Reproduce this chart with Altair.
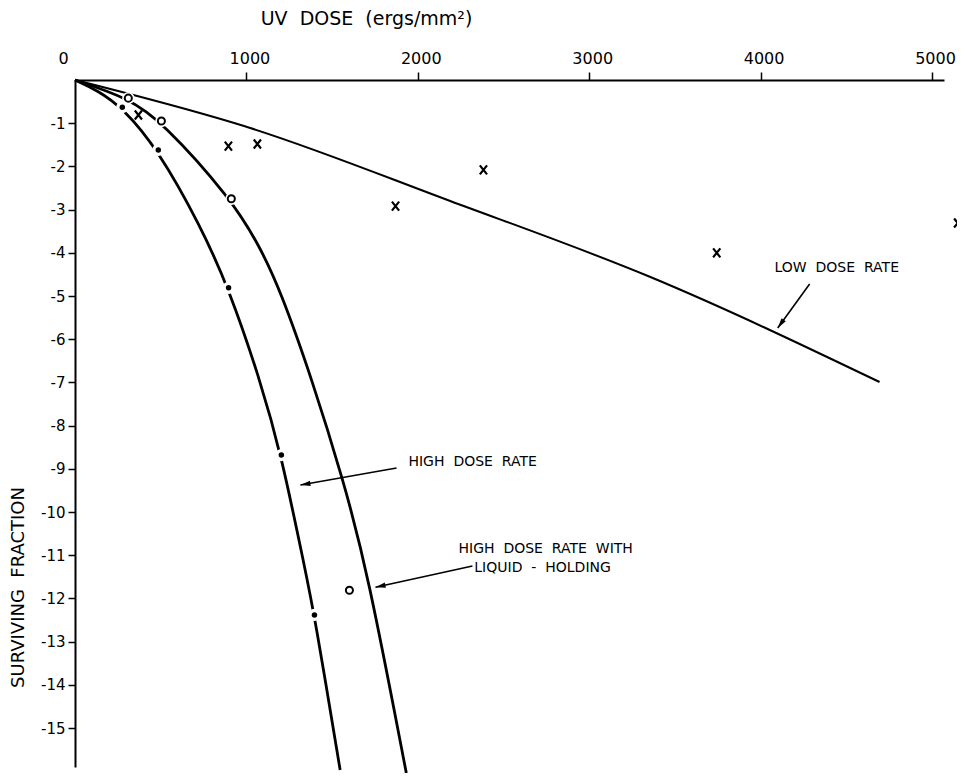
import math
import altair as alt
import pandas as pd

# ---------------- data ----------------
low_curve_dose = [0, 1022, 2189, 3357, 4694]
low_curve_log = [0, -1.11, -2.80, -4.56, -6.99]

high_curve_dose = [0, 127, 276, 486, 730, 896, 1080, 1204, 1343, 1397, 1547]
high_curve_log = [0, -0.23, -0.63, -1.62, -3.36, -4.81, -6.94, -8.68, -11.34, -12.38, -15.97]

liquid_curve_dose = [0, 311, 504, 912, 1080, 1197, 1384, 1565, 1705, 1933]
liquid_curve_log = [0, -0.42, -0.95, -2.75, -3.87, -4.86, -6.94, -9.26, -11.34, -16.04]

low_pts_dose = [370, 895, 1064, 1870, 2383, 3744, 5150]
low_pts_log = [-0.81, -1.53, -1.48, -2.92, -2.08, -4.00, -3.31]

high_pts_dose = [276, 486, 896, 1204, 1397]
high_pts_log = [-0.63, -1.62, -4.81, -8.68, -12.38]

liquid_pts_dose = [311, 504, 912, 1601]
liquid_pts_log = [-0.42, -0.95, -2.75, -11.81]

x_ticks = [0, 1000, 2000, 3000, 4000, 5000]
y_ticks = [-1, -2, -3, -4, -5, -6, -7, -8, -9, -10, -11, -12, -13, -14, -15]

SP = "\u00a0\u00a0"
label_text = ["LOW" + SP + "DOSE" + SP + "RATE",
              "HIGH" + SP + "DOSE" + SP + "RATE",
              "HIGH" + SP + "DOSE" + SP + "RATE" + SP + "WITH",
              "LIQUID" + SP + "-" + SP + "HOLDING"]
label_dose = [4444, 2320, 2746, 2728]
label_log = [-4.35, -8.84, -10.86, -11.30]

arrow_start_dose = [4286, 1876, 2319]
arrow_start_log = [-4.72, -8.98, -11.25]
arrow_tip_dose = [4100, 1315, 1753]
arrow_tip_log = [-5.74, -9.375, -11.74]

# ---------------- layout ----------------
W, H = 869, 687
X_MAX, Y_MIN = 5070, -15.9
FONT = "DejaVu Sans"

xs = alt.Scale(domain=[0, X_MAX], nice=False, zero=False)
ys = alt.Scale(domain=[Y_MIN, 0], nice=False, zero=False)

curves = pd.concat([
    pd.DataFrame({"dose": low_curve_dose, "log": low_curve_log, "series": "low"}),
    pd.DataFrame({"dose": high_curve_dose, "log": high_curve_log, "series": "high"}),
    pd.DataFrame({"dose": liquid_curve_dose, "log": liquid_curve_log, "series": "liquid"}),
])
low_pts = pd.DataFrame({"dose": low_pts_dose, "log": low_pts_log})
high_pts = pd.DataFrame({"dose": high_pts_dose, "log": high_pts_log})
liquid_pts = pd.DataFrame({"dose": liquid_pts_dose, "log": liquid_pts_log})
halo_pts = pd.concat([high_pts, liquid_pts[liquid_pts["log"] > -5]])
labels = pd.DataFrame({"text": label_text, "dose": label_dose, "log": label_log})

kx = W / X_MAX
ky = H / (0 - Y_MIN)
angles = []
for sx, sy, tx, ty in zip(arrow_start_dose, arrow_start_log, arrow_tip_dose, arrow_tip_log):
    dxp = (tx - sx) * kx
    dyp = -(ty - sy) * ky
    angles.append(math.degrees(math.atan2(dxp, -dyp)) % 360)
arrows = pd.DataFrame({"sx": arrow_start_dose, "sy": arrow_start_log,
                       "tx": arrow_tip_dose, "ty": arrow_tip_log, "ang": angles})

x_axis = alt.Axis(
    orient="top", values=x_ticks, format="d", grid=False,
    domainColor="black", domainWidth=2, tickColor="black", tickWidth=1.5, tickSize=8,
    tickOpacity={"condition": {"test": "datum.value === 0", "value": 0}, "value": 1},
    labelOffset={"condition": {"test": "datum.value === 0", "value": -17}, "value": 3},
    labelFont=FONT, labelFontSize=16, labelColor="black", labelPadding=6,
    title="UV" + SP + "DOSE" + SP + "(ergs/mm²)", titleFont=FONT, titleFontSize=19,
    titleFontWeight="normal",
    titleColor="black", titleX=291, titleY=-62, titleAlign="center", titleBaseline="middle",
)
y_axis = alt.Axis(
    orient="left", values=y_ticks, labelExpr="'-' + abs(datum.value)", grid=False,
    domainColor="black", domainWidth=2, tickColor="black", tickWidth=1.5, tickSize=7,
    labelFont=FONT, labelFontSize=15, labelColor="black", labelPadding=3,
    title="SURVIVING" + SP + "FRACTION", titleFont=FONT, titleFontSize=18,
    titleFontWeight="normal",
    titleColor="black", titleAngle=270, titleX=-57, titleY=507, titleAlign="center",
    titleBaseline="middle",
)

base_x = alt.X("dose:Q", scale=xs, axis=x_axis)
base_y = alt.Y("log:Q", scale=ys, axis=y_axis)

low_line = alt.Chart(curves[curves["series"] == "low"]).mark_line(
    color="black", strokeWidth=2, interpolate="monotone"
).encode(x=base_x, y=base_y)

thick_lines = alt.Chart(curves[curves["series"] != "low"]).mark_line(
    color="black", strokeWidth=2.8, interpolate="basis"
).encode(x=alt.X("dose:Q", scale=xs), y=alt.Y("log:Q", scale=ys), detail="series:N")

enc = dict(x=alt.X("dose:Q", scale=xs), y=alt.Y("log:Q", scale=ys))

halos = alt.Chart(halo_pts).mark_point(
    shape="circle", filled=True, color="white", size=150, opacity=1
).encode(**enc)

dots = alt.Chart(high_pts).mark_point(
    shape="circle", filled=True, color="black", size=30, opacity=1
).encode(**enc)

circles = alt.Chart(liquid_pts).mark_point(
    shape="circle", filled=True, fill="white", stroke="black", strokeWidth=2, size=50, opacity=1
).encode(**enc)

crosses = alt.Chart(low_pts).mark_point(
    shape="M-0.8,-1L0.8,1M0.8,-1L-0.8,1", filled=False, color="black",
    strokeWidth=2.2, size=81, opacity=1
).encode(**enc)

texts = alt.Chart(labels).mark_text(
    font=FONT, fontSize=14, color="black", align="center", baseline="middle"
).encode(x=alt.X("dose:Q", scale=xs), y=alt.Y("log:Q", scale=ys), text="text:N")

shafts = alt.Chart(arrows).mark_rule(color="black", strokeWidth=1.6).encode(
    x=alt.X("sx:Q", scale=xs), y=alt.Y("sy:Q", scale=ys), x2="tx:Q", y2="ty:Q"
)

heads = alt.Chart(arrows).mark_point(
    shape="M0,0L0.42,1.6L-0.42,1.6Z", filled=True, color="black", size=160, opacity=1
).encode(x=alt.X("tx:Q", scale=xs), y=alt.Y("ty:Q", scale=ys), angle=alt.Angle("ang:Q", scale=None))

chart = alt.layer(
    low_line, thick_lines, halos, dots, circles, crosses, shafts, heads, texts
).properties(
    width=W, height=H,
    autosize=alt.AutoSizeParams(type="none"),
    padding={"left": 67, "top": 72, "right": 13, "bottom": 6},
    background="white",
).configure_view(stroke=None)

chart.save("out.html", embed_options={"renderer": "svg", "actions": False})
